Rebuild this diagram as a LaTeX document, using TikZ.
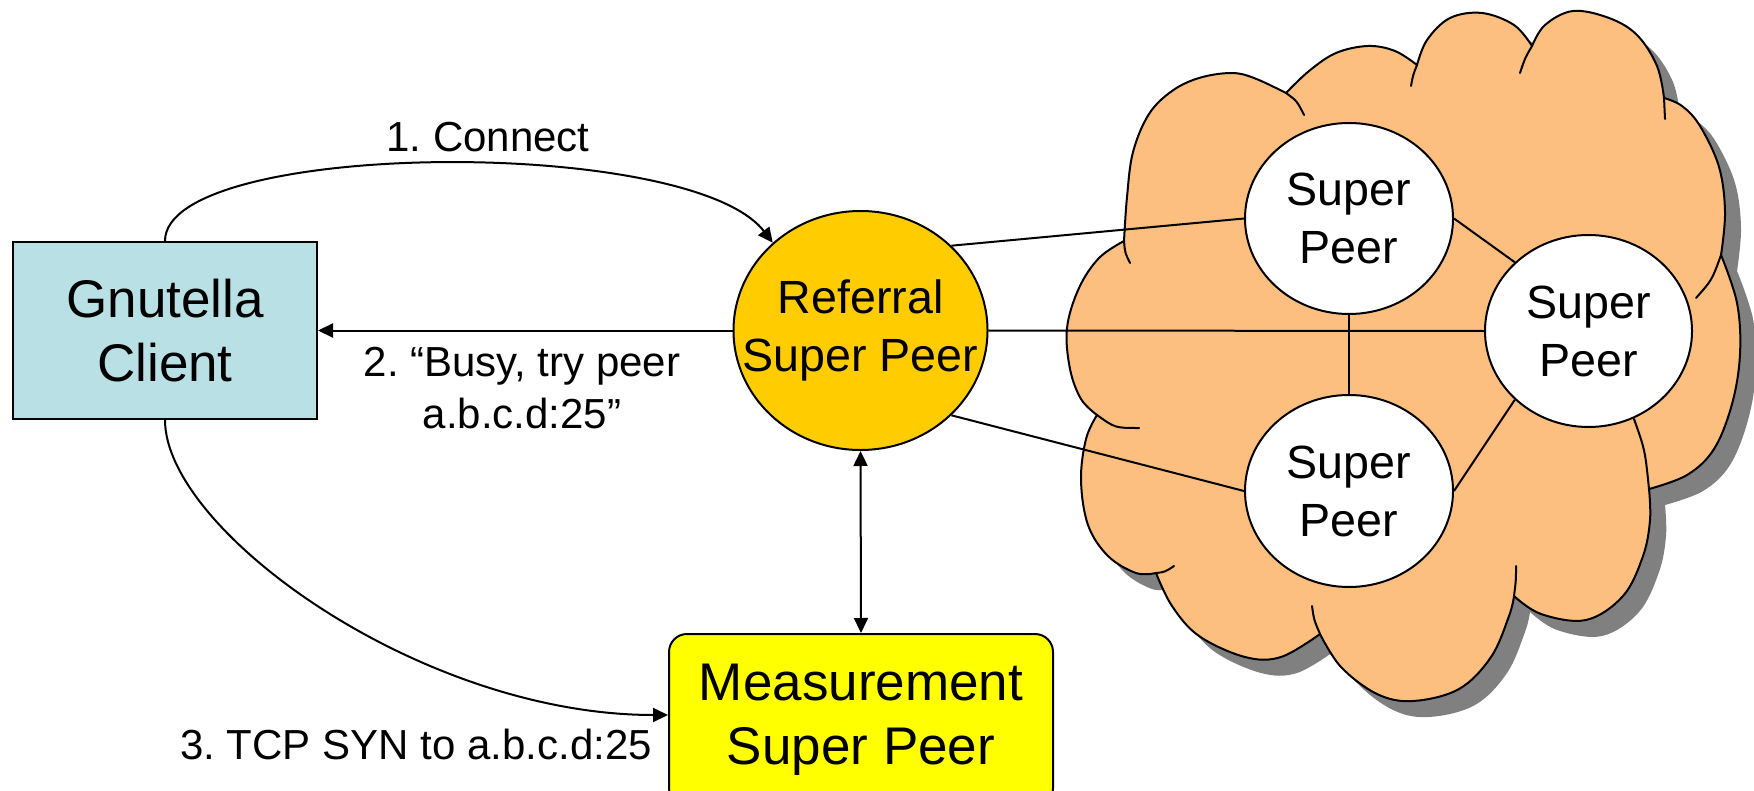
\documentclass[tikz,border=0pt]{standalone}
\usepackage{fontspec}
\setmainfont{Liberation Sans}
\frenchspacing
\usetikzlibrary{shapes.geometric,arrows.meta}
\definecolor{gcblue}{RGB}{185,224,228}
\definecolor{refgold}{RGB}{255,204,0}
\definecolor{measyellow}{RGB}{255,255,0}
\definecolor{cloudfill}{RGB}{253,191,128}
\definecolor{cloudshadow}{RGB}{128,128,128}
\newcommand\cloudoutline{%
plot[smooth,tension=.6] coordinates{(1286,93) (1254,78) (1231,73) (1199,78) (1172,91) (1149,114) (1133,152) (1127,197) (1124,241)}
-- plot[smooth,tension=.6] coordinates{(1124,241) (1099,258) (1079,288) (1067,328) (1070,369) (1081,399) (1097,415)}
-- plot[smooth,tension=.6] coordinates{(1097,415) (1086,439) (1081,480) (1088,525) (1108,556) (1136,573) (1156,573)}
-- plot[smooth,tension=.6] coordinates{(1156,573) (1172,606) (1199,636) (1245,657) (1281,657) (1320,634)}
-- plot[smooth,tension=.6] coordinates{(1320,634) (1341,667) (1377,694) (1413,701) (1459,689) (1491,657) (1509,616) (1514,596)}
-- plot[smooth,tension=.6] coordinates{(1514,596) (1541,614) (1586,620) (1623,596) (1643,556) (1650,520) (1649,489)}
-- plot[smooth,tension=.6] coordinates{(1649,489) (1687,475) (1714,449) (1732,404) (1740,354) (1737,303) (1721,255)}
-- plot[smooth,tension=.6] coordinates{(1721,255) (1725,212) (1719,167) (1700,126) (1682,106) (1664,98)}
-- plot[smooth,tension=.6] coordinates{(1664,98) (1657,66) (1637,35) (1609,18) (1573,11) (1545,25) (1532,46)}
-- plot[smooth,tension=.6] coordinates{(1532,46) (1514,25) (1482,13) (1450,18) (1427,40) (1417,65)}
-- plot[smooth,tension=.6] coordinates{(1417,65) (1395,51) (1368,46) (1336,53) (1309,71) (1286,93)}
-- cycle}
\tikzset{
  conn/.style={line width=1pt},
  tip/.style={-{Triangle[length=7.5pt,width=7pt]}},
  bothtips/.style={{Triangle[length=7.5pt,width=7pt]}-{Triangle[length=7.5pt,width=7pt]}},
  bigtxt/.style={font=\fontsize{26.5pt}{32pt}\selectfont, align=center},
  midtxt/.style={font=\fontsize{23.3pt}{29pt}\selectfont, align=center},
  lbl/.style={font=\fontsize{21pt}{26pt}\selectfont, inner sep=0pt},
  peer/.style={ellipse, draw, line width=1pt, fill=white, inner sep=0pt, midtxt},
}
\begin{document}
\begin{tikzpicture}[x=0.5pt,y=-0.5pt]
\useasboundingbox (0,0) rectangle (1754,791);
\clip (0,0) rectangle (1754,791);
\fill[white] (0,0) rectangle (1754,791);

% cloud with shadow
\begin{scope}[shift={(16,16)}]
  \fill[cloudshadow] \cloudoutline;
\end{scope}
\filldraw[fill=cloudfill, draw=black, line width=1pt, line join=round] \cloudoutline;
% inner arcs of the cloud
\begin{scope}[line width=1pt, line cap=round]
  \draw (1286,93) .. controls (1297,101) .. (1304,115);
  \draw (1124,241) .. controls (1125,253) .. (1130,263);
  \draw (1097,415) .. controls (1115,428) .. (1139,428);
  \draw (1156,573) .. controls (1165,572) .. (1174,566);
  \draw (1320,634) .. controls (1314,620) .. (1312,606);
  \draw (1514,596) .. controls (1516,580) .. (1516,566);
  \draw (1649,489) .. controls (1645,450) .. (1634,419);
  \draw (1721,255) .. controls (1712,280) .. (1696,298);
  \draw (1664,98) .. controls (1665,108) .. (1665,119);
  \draw (1532,46) .. controls (1525,58) .. (1520,73);
  \draw (1417,65) .. controls (1413,75) .. (1411,86);
\end{scope}

% nodes
\node[draw, line width=1pt, fill=gcblue, minimum width=152pt, minimum height=88.5pt, inner sep=0pt, bigtxt] (gc) at (165,330.5) {Gnutella\\Client};
\node[ellipse, draw, line width=1pt, fill=refgold, minimum width=127pt, minimum height=119.5pt, inner xsep=-20pt, inner ysep=0pt, midtxt] (ref) at (860.5,330.5) {Referral\\Super Peer};
\node[draw, line width=1pt, fill=measyellow, rounded corners=9pt, minimum width=192pt, minimum height=86pt, inner sep=0pt, bigtxt] (meas) at (861,720) {Measurement\\Super Peer};
\node[peer, minimum width=104pt, minimum height=95.5pt] (sp1) at (1349,218.5) {Super\\Peer};
\node[peer, minimum width=103.5pt, minimum height=96pt] (sp2) at (1588.5,331) {Super\\Peer};
\node[peer, minimum width=104pt, minimum height=96pt] (sp3) at (1349,491) {Super\\Peer};

% labels
\node[lbl, anchor=base] (l1) at (488,152) {1. Connect};
\node[lbl, align=center] (l2) at (522,388.5) {2. “Busy, try peer\\a.b.c.d:25”};
\node[lbl, anchor=base] (l3) at (416,759) {3. TCP SYN to a.b.c.d:25};

% connectors
\draw[conn, tip] (gc.north) .. controls (165,140) and (690,135) .. (ref.135);
\draw[conn, tip] (ref.west) -- (gc.east);
\draw[conn, bothtips] (ref.south) -- (meas.north);
\draw[conn, tip] (gc.south) .. controls (165,530) and (420,715) .. ([yshift=2.5pt]meas.west);

\draw[conn] (ref.43) -- (sp1.west);
\draw[conn] (ref.east) -- (sp2.west);
\draw[conn] (ref.-43) -- (sp3.west);
\draw[conn] (sp1.east) -- (sp2.137);
\draw[conn] (sp1.south) -- (sp3.north);
\draw[conn] (sp3.east) -- (sp2.223);
\end{tikzpicture}
\end{document}
